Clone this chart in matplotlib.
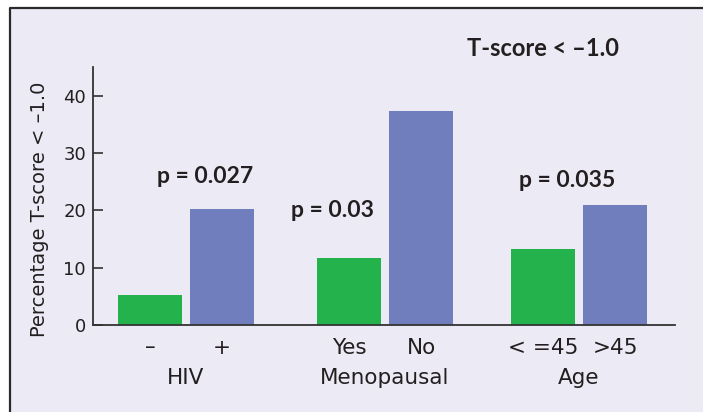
import matplotlib
matplotlib.use("Agg")
import matplotlib.pyplot as plt
from matplotlib.patches import Rectangle
from matplotlib.lines import Line2D
import matplotlib.transforms as mtransforms

# data
groups = ["HIV", "Menopausal", "Age"]
sub_labels = [["\u2013", "+"], ["Yes", "No"], ["< =45", ">45"]]
green_vals = [5.2, 11.7, 13.2]
blue_vals = [20.2, 37.4, 21.0]
p_texts = ["p = 0.027", "p = 0.03", "p = 0.035"]
yticks = [0, 10, 20, 30, 40]

green = "#24B24C"
blue = "#717EBE"
bg = "#ECEAF4"
ink = "#231F20"
regular = ['DejaVu Sans']
bold = ['Lato', 'DejaVu Sans']

plt.rcParams['font.family'] = regular

fig = plt.figure(figsize=(7.03, 4.12), dpi=100)
fig.patch.set_facecolor(bg)
# white strip outside the panel, border on top and left edges
x0 = 10 / 703
y1 = 1 - 8 / 412
fig.patches.append(Rectangle((0, 0), x0, 1, transform=fig.transFigure,
                             facecolor="white", edgecolor="none", zorder=-5))
fig.patches.append(Rectangle((0, y1), 1, 1 - y1, transform=fig.transFigure,
                             facecolor="white", edgecolor="none", zorder=-5))
fig.lines.append(Line2D([x0, x0, 1], [0, y1, y1], transform=fig.transFigure,
                        color="#2a2a2a", linewidth=1.6, zorder=-4))

ax = fig.add_axes([93 / 703, 1 - 325 / 412, (675 - 93) / 703, (325 - 67) / 412])
ax.set_facecolor("none")
ax.set_zorder(1)

w = 0.325
off = 0.183
centers = [0, 1.01, 1.995]
for i, c in enumerate(centers):
    ax.bar(c - off, green_vals[i], width=w, color=green, zorder=2)
    ax.bar(c + off, blue_vals[i], width=w, color=blue, zorder=2)

ax.set_xlim(-0.472, 2.482)
ax.set_ylim(0, 45)
ax.set_yticks(yticks)
ax.tick_params(axis="y", direction="in", length=7, width=1.2, color="#333333",
               labelsize=13, labelcolor=ink, pad=5)

xt = []
xl = []
for i, c in enumerate(centers):
    xt += [c - off, c + off]
    xl += sub_labels[i]
ax.set_xticks(xt)
ax.set_xticklabels(xl)
ax.tick_params(axis="x", length=0, labelsize=15.5, labelcolor=ink, pad=9)

trans = mtransforms.blended_transform_factory(ax.transData, ax.transAxes)
for i, c in enumerate(centers):
    ax.text(c, -0.205, groups[i], transform=trans, ha="center", va="center",
            fontsize=15.5, color=ink)

for s in ["top", "right"]:
    ax.spines[s].set_visible(False)
for s in ["left", "bottom"]:
    ax.spines[s].set_color("#333333")
    ax.spines[s].set_linewidth(1.3)

fig.text(40 / 703, 1 - 209 / 412, "Percentage T-score < \u20131.0", rotation=90,
         ha="center", va="center", fontsize=14, color=ink)

# p-values
p_pos = [(0.096, 25.9), (0.746, 20.0), (1.934, 25.2)]
for (x, y), t in zip(p_pos, p_texts):
    ax.text(x, y, t, ha="center", va="center", fontsize=16.5, fontweight="bold",
            color=ink, family=bold)

fig.text(543 / 703, 1 - 48 / 412, "T-score < \u20131.0", ha="center", va="center",
         fontsize=17, fontweight="bold", color=ink, family=bold)

fig.savefig("out.png", dpi=100, facecolor=fig.get_facecolor())
